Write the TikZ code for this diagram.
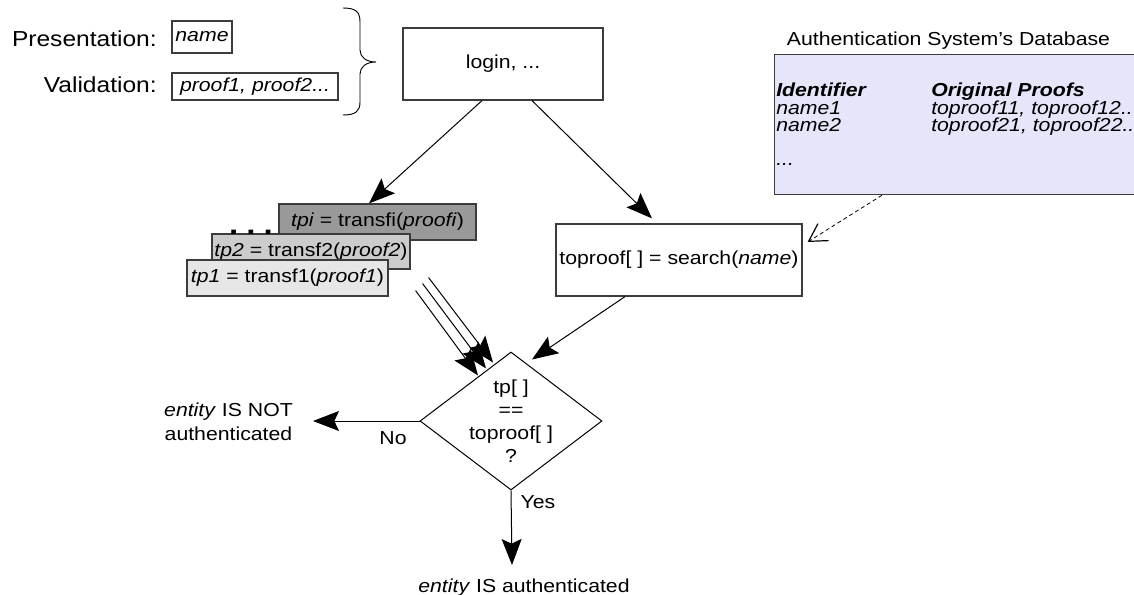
\documentclass[tikz,border=0pt]{standalone}
\usepackage{fontspec}
\setmainfont{Liberation Sans}[FakeStretch=1.13]
\usetikzlibrary{arrows.meta,shapes.geometric,calc}
\definecolor{dbfill}{RGB}{230,230,250}
\definecolor{boxline}{RGB}{60,60,60}
\definecolor{tpidark}{RGB}{153,153,153}
\definecolor{tpmid}{RGB}{204,204,204}
\definecolor{tplight}{RGB}{230,230,230}
\begin{document}
\begin{tikzpicture}[x=0.75pt,y=-0.75pt,
  every node/.style={font=\fontsize{14.1pt}{17.25pt}\selectfont, inner sep=0pt},
  box/.style={draw=boxline, line width=0.9pt, rectangle, align=center},
  biglabel/.style={anchor=base east, font=\fontsize{16.3pt}{19pt}\selectfont},
  arr/.style={line width=0.75pt, -{Stealth[length=19.5pt,width=15pt,inset=3.5pt]}},
  dbtext/.style={anchor=base west},
  lookup/.style={line width=0.6pt, dash pattern=on 3pt off 2.2pt,
    -{Straight Barb[length=13pt,width=15pt,line width=0.9pt]}}
]
\clip (0,0) rectangle (1134,595);

% credentials supplied by the entity
\node[biglabel] (pres) at (157,47) {Presentation:};
\node[biglabel] (valid) at (157,93) {Validation:};
\node[box, minimum width=60*0.75pt, minimum height=32*0.75pt] (namebox) at (202,37) {\textit{name}};
\node[box, minimum width=166*0.75pt, minimum height=27*0.75pt] (proofbox) at (255,86.5) {\textit{proof1, proof2...}};
\draw[line width=0.7pt] (343,8) .. controls (356,8) and (360,12) .. (360,22) -- (360,50)
  .. controls (360,57) and (366,62) .. (376,62)
  .. controls (366,62) and (360,67) .. (360,74) -- (360,102)
  .. controls (360,111) and (356,115) .. (343,115);

% login step
\node[box, minimum width=200*0.75pt, minimum height=72*0.75pt] (login) at (503,64) {login, ...};

% transformed proofs
\node[box, fill=tpidark, minimum width=197*0.75pt, minimum height=36*0.75pt] (tpi) at (377.5,222) {\textit{tpi} = transfi(\textit{proofi})};
\node[box, fill=tpmid, minimum width=198*0.75pt, minimum height=35*0.75pt] (tp2) at (311,251.5) {\textit{tp2} = transf2(\textit{proof2})};
\node[box, fill=tplight, minimum width=201*0.75pt, minimum height=36*0.75pt] (tp1) at (287.5,278) {\textit{tp1} = transf1(\textit{proof1})};
\node[anchor=base, font=\bfseries\fontsize{22pt}{22pt}\selectfont] (dots) at (251,234) {.\hspace{6pt}.\hspace{6pt}.};

% lookup of the stored proofs
\node[box, minimum width=246*0.75pt, minimum height=72*0.75pt] (search) at (679,260) {toproof[ ] = search(\textit{name})};

% database
\node[anchor=base] (dbtitle) at (948.5,46) {Authentication System's Database};
\node[draw=boxline, fill=dbfill, line width=0.9pt, anchor=north west,
  minimum width=380*0.75pt, minimum height=140*0.75pt] (db) at (774,54) {};
\node[dbtext] (hid) at (776,97) {\textbf{\textit{Identifier}}};
\node[dbtext] (hproof) at (931,97) {\textbf{\textit{Original Proofs}}};
\node[dbtext] (n1) at (776,115) {\textit{name1}};
\node[dbtext] (p1) at (931,115) {\textit{toproof11, toproof12..}};
\node[dbtext] (n2) at (776,132) {\textit{name2}};
\node[dbtext] (p2) at (931,132) {\textit{toproof21, toproof22..}};
\node[dbtext] (nmore) at (776,166) {\textit{...}};

% comparison
\node[draw=black, line width=0.75pt, diamond, minimum width=182*0.75pt, minimum height=138*0.75pt] (dec) at (511,421) {};
\node[align=center] (dectext) at (511,421.5) {tp[ ]\\==\\toproof[ ]\\?};

% outcomes
\node[align=center, font=\fontsize{14.1pt}{18pt}\selectfont] (notauth) at (228.5,422) {\textit{entity} IS NOT\\authenticated};
\node[anchor=base] (auth) at (524,592) {\textit{entity} IS authenticated};
\node[anchor=base] (no) at (393,444) {No};
\node[anchor=base] (yes) at (538,508) {Yes};
\coordinate (noend) at (313,421);
\coordinate (yesend) at (512,565);

% connectors
\draw[arr] ($(login.south)+(-21,0)$) -- ($(tpi.north)+(-8.5,0)$);
\draw[arr] ($(login.south)+(29,0)$) -- ($(search.north)+(-27,-5)$);
\draw[lookup] ($(db.south west)+(108,0)$) -- ($(search.east)+(5,-18)$);
\draw[arr] ($(search.south)+(-54,0)$) -- ($(dec.north)+(21,8)$);
\draw[arr] ($(tp1.south east)+(27,-6)$) -- ($(dec.north)+(-33,24)$);
\draw[arr] ($(tp1.south east)+(34,-13)$) -- ($(dec.north)+(-25,17)$);
\draw[arr] ($(tp1.south east)+(40,-19)$) -- ($(dec.north)+(-18,11)$);
\draw[arr] (dec.west) -- (noend);
\draw[arr] (dec.south) -- (yesend);
\end{tikzpicture}
\end{document}
